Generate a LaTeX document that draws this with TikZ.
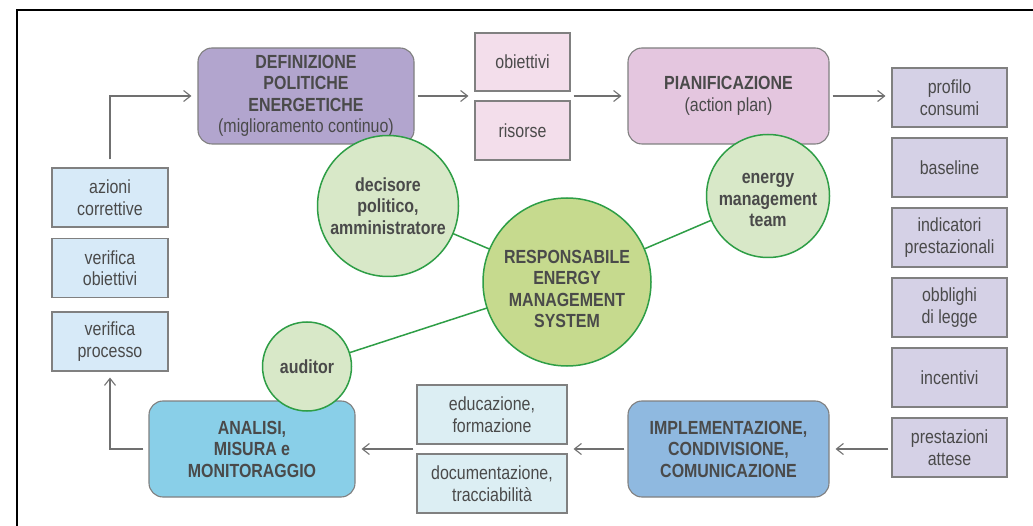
\documentclass[tikz,border=0pt]{standalone}
\usepackage{fontspec}
\setmainfont{Liberation Sans}[FakeStretch=0.84]
\usetikzlibrary{arrows.meta}
\definecolor{txt}{HTML}{4A4A4A}
\definecolor{bgray}{HTML}{808080}
\definecolor{agray}{HTML}{707070}
\definecolor{cdef}{HTML}{B2A5CE}
\definecolor{cpinkl}{HTML}{F3DEEB}
\definecolor{cpian}{HTML}{E4C6DF}
\definecolor{cright}{HTML}{D5D1E6}
\definecolor{cleft}{HTML}{D7EAF8}
\definecolor{cana}{HTML}{89CFE8}
\definecolor{cedu}{HTML}{DCEEF3}
\definecolor{cimpl}{HTML}{8FB9E0}
\definecolor{cgreen}{HTML}{2E9E46}
\definecolor{clight}{HTML}{D8E8C8}
\definecolor{cresp}{HTML}{C6DA8E}
\newcommand\myfs{\fontsize{19}{21.5}\selectfont}
\begin{document}
\begin{tikzpicture}[x=1pt,y=-1pt,
  box/.style={draw=bgray, line width=1.1pt, align=center, text=txt, font=\myfs, inner sep=2pt},
  rbox/.style={box, rounded corners=14pt, minimum width=#1, minimum height=96pt},
  sbox/.style={box, minimum width=#1, minimum height=59pt},
  circ/.style={circle, draw=cgreen, line width=1.5pt, fill=clight, align=center, text=txt, font=\myfs\bfseries, inner sep=0pt, minimum size=#1},
  ctext/.style={align=center, text=txt, font=\myfs\bfseries, inner sep=0pt},
  arr/.style={draw=agray, line width=1.1pt, -{Straight Barb[length=7pt,width=11pt]}, shorten <=3pt, shorten >=6pt},
  gline/.style={draw=cgreen, line width=1.5pt}]
\useasboundingbox (0,0) rectangle (1033,526);
\fill[white] (0,0) rectangle (1033,526);
\draw[line width=1.6pt, black] (17,526) -- (17,10) -- (1033,10);

% main rounded boxes
\node[rbox=216pt, fill=cdef] (def) at (306,96) {\textbf{DEFINIZIONE}\\\textbf{POLITICHE}\\\textbf{ENERGETICHE}\\(miglioramento continuo)};
\node[rbox=201pt, fill=cpian] (pian) at (728.5,96) {\textbf{PIANIFICAZIONE}\\(action plan)};
\node[rbox=206pt, fill=cana, font=\myfs\bfseries] (ana) at (252,449) {ANALISI,\\MISURA e\\MONITORAGGIO};
\node[rbox=201pt, fill=cimpl, font=\myfs\bfseries] (impl) at (728.5,449) {IMPLEMENTAZIONE,\\CONDIVISIONE,\\COMUNICAZIONE};

% small boxes top
\node[box, fill=cpinkl, minimum width=95pt, minimum height=58pt] (obj) at (522.5,62) {obiettivi};
\node[box, fill=cpinkl, minimum width=95pt, minimum height=59pt] (ris) at (522.5,130.5) {risorse};

% right column
\node[sbox=115pt, fill=cright] (prof) at (949.5,97.5) {profilo\\consumi};
\node[sbox=115pt, fill=cright] (base) at (949.5,167.5) {baseline};
\node[sbox=115pt, fill=cright] (ind) at (949.5,237.5) {indicatori\\prestazionali};
\node[sbox=115pt, fill=cright] (obb) at (949.5,307.5) {obblighi\\di legge};
\node[sbox=115pt, fill=cright] (inc) at (949.5,377.5) {incentivi};
\node[sbox=115pt, fill=cright] (prest) at (949.5,447.5) {prestazioni\\attese};

% left column
\node[sbox=116pt, fill=cleft] (az) at (110,197.5) {azioni\\correttive};
\node[sbox=116pt, fill=cleft] (vo) at (110,268) {verifica\\obiettivi};
\node[sbox=116pt, fill=cleft] (vp) at (110,341.5) {verifica\\processo};

% bottom middle
\node[sbox=150pt, fill=cedu] (edu) at (492,414.5) {educazione,\\formazione};
\node[sbox=150pt, fill=cedu] (doc) at (492,483.5) {documentazione,\\tracciabilità};

% arrows
\draw[arr, shorten <=8pt] (az.north) |- (def.west);
\draw[arr] (def.east) -- (def.east -| obj.west);
\draw[arr] (pian.west -| obj.east) -- (pian.west);
\draw[arr] (pian.east) -- (pian.east -| prof.west);
\draw[arr] (impl.east -| prest.west) -- (impl.east);
\draw[arr] (impl.west) -- (impl.west -| edu.east);
\draw[arr] (ana.east -| edu.west) -- (ana.east);
\draw[arr, shorten <=5pt] (ana.west) -| (vp.south);

% circles
\coordinate (respc) at (567,282);
\coordinate (decc) at (388,206);
\coordinate (teamc) at (768,196);
\coordinate (audc) at (307,366.5);
\draw[gline] (decc) -- (respc);
\draw[gline] (teamc) -- (respc);
\draw[gline] (audc) -- (respc);
\node[circ=141pt] (dec) at (decc) {decisore\\politico,\\amministratore};
\node[circ=123pt] (team) at (teamc) {};
\node[ctext] (teamt) at (768,200) {energy\\management\\team};
\node[circ=89pt] (aud) at (audc) {auditor};
\node[circ=168pt, fill=cresp] (resp) at (respc) {};
\node[ctext] (respt) at (567,289) {RESPONSABILE\\ENERGY\\MANAGEMENT\\SYSTEM};
\end{tikzpicture}
\end{document}
